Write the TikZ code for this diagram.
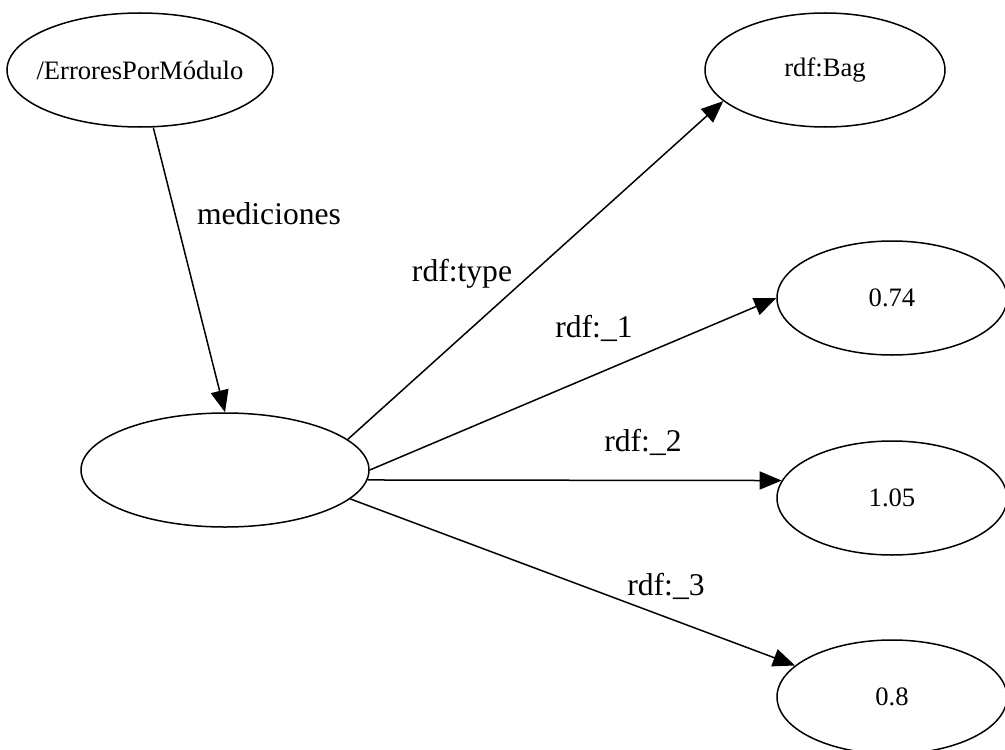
\documentclass[tikz,border=0pt]{standalone}
\usepackage{fontspec}
\setmainfont{Liberation Serif}
\usetikzlibrary{shapes.geometric,arrows.meta}

\begin{document}
\begin{tikzpicture}[
  x=.5pt,
  y=-.5pt,
  rdf node/.style={
    draw,
    ellipse,
    inner sep=0pt,
    minimum height=57pt,
    line width=.75pt,
    font=\fontsize{13.3}{16}\selectfont
  },
  rdf edge/.style={
    draw,
    line width=.75pt,
    -{Triangle[length=11pt,width=9pt]}
  },
  rdf label/.style={
    anchor=base,
    font=\fontsize{15.8}{19}\selectfont
  },
]
\useasboundingbox (0,0) rectangle (1005,749);

\node[rdf node, minimum width=133pt] (modulo) at (140,70) {\makebox[0pt]{/ErroresPorMódulo}};
\node[rdf node, minimum width=120pt] (bag) at (825,70) {rdf:Bag};
\node[rdf node, minimum width=144pt] (bagnode) at (225,470) {};
\node[rdf node, minimum width=115pt] (val1) at (892,298) {0.74};
\node[rdf node, minimum width=115pt] (val2) at (892,498) {1.05};
\node[rdf node, minimum width=115pt] (val3) at (892,697) {0.8};

\draw[rdf edge] (modulo.-77) -- (bagnode.north);
\draw[rdf edge] (bagnode.14) -- (bag.197);
\draw[rdf edge] (bagnode.east) -- (val1.west);
\draw[rdf edge] (bagnode.-4) -- (val2.171);
\draw[rdf edge] (bagnode.-13) -- (val3.162);

\node[rdf label] (medlabel) at (269,224) {mediciones};
\node[rdf label] (typelabel) at (462,281) {rdf:type};
\node[rdf label] (onelabel) at (594,337) {rdf:\_1};
\node[rdf label] (twolabel) at (643,451) {rdf:\_2};
\node[rdf label] (threelabel) at (666,595) {rdf:\_3};
\end{tikzpicture}
\end{document}
